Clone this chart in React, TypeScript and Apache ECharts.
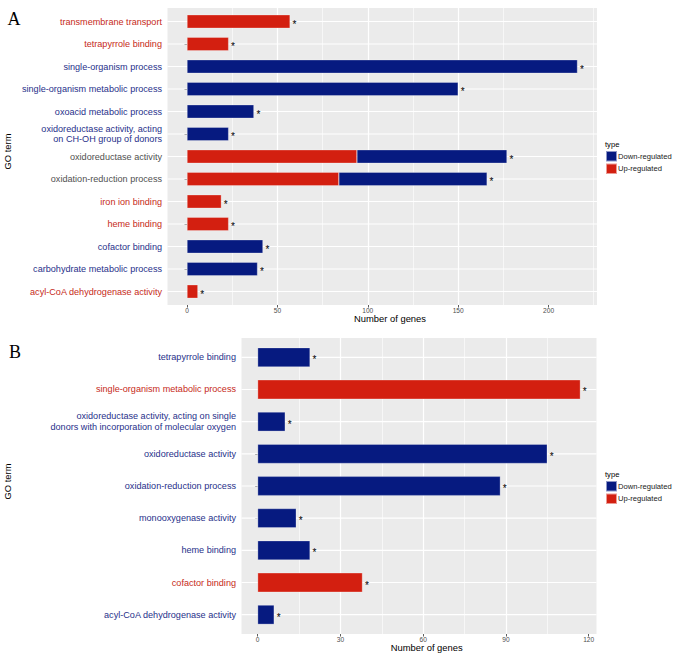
import React, { useEffect, useRef } from "react";
import * as echarts from "echarts";

const TYPE_DOWN = "Down-regulated";
const TYPE_UP = "Up-regulated";
const legendTitle = "type";
const yTitle = "GO term";
const xTitle = "Number of genes";
const panelLetters = ["A", "B"];

// Panel A
const categoriesA = [
  "transmembrane transport",
  "tetrapyrrole binding",
  "single-organism process",
  "single-organism metabolic process",
  "oxoacid metabolic process",
  "oxidoreductase activity, acting\non CH-OH group of donors",
  "oxidoreductase activity",
  "oxidation-reduction process",
  "iron ion binding",
  "heme binding",
  "cofactor binding",
  "carbohydrate metabolic process",
  "acyl-CoA dehydrogenase activity",
];
const upA = [57, 23, null, null, null, null, 94, 84, 19, 23, null, null, 6];
const downA = [null, null, 216, 150, 37, 23, 83, 82, null, null, 42, 39, null];
const xTicksA = [0, 50, 100, 150, 200];
const xRangeA = [-10.8, 226.8];

// Panel B
const categoriesB = [
  "tetrapyrrole binding",
  "single-organism metabolic process",
  "oxidoreductase activity, acting on single\ndonors with incorporation of molecular oxygen",
  "oxidoreductase activity",
  "oxidation-reduction process",
  "monooxygenase activity",
  "heme binding",
  "cofactor binding",
  "acyl-CoA dehydrogenase activity",
];
const upB = [null, 117, null, null, null, null, null, 38, null];
const downB = [19, null, 10, 105, 88, 14, 19, null, 6];
const xTicksB = [0, 30, 60, 90, 120];
const xRangeB = [-5.85, 122.85];

const BLUE = "#061a80";
const RED = "#d31f10";
const TXT_BLUE = "#27308a";
const TXT_RED = "#c62a20";
const TXT_GREY = "#505050";
const PANEL_BG = "#ebebeb";
const FONT = "Liberation Sans";

type Layout = { left: number; top: number; width: number; height: number };

function buildPanel(
  p: number,
  cats: string[],
  up: (number | null)[],
  down: (number | null)[],
  ticks: number[],
  range: number[],
  L: Layout
) {
  const n = cats.length;
  const unit = L.height / (n + 0.2);
  const inset = unit * 0.1;
  const gBg = p * 2;
  const gBar = p * 2 + 1;
  const grids = [
    { left: L.left, top: L.top, width: L.width, height: L.height, show: true, backgroundColor: PANEL_BG, borderWidth: 0, containLabel: false },
    { left: L.left, top: L.top + inset, width: L.width, height: L.height - 2 * inset, show: false, containLabel: false },
  ];
  const xAxes = [
    {
      type: "value",
      gridIndex: gBg,
      min: range[0],
      max: range[1],
      axisLine: { show: false },
      axisTick: { show: true, customValues: ticks, length: 2.5, lineStyle: { color: "#333", width: 0.8 } },
      axisLabel: { customValues: ticks, fontSize: 6.6, color: "#4d4d4d", margin: 1.8, fontFamily: FONT },
      splitLine: { show: true, showMinLine: false, showMaxLine: false, lineStyle: { color: "#ffffff", width: 1.2 } },
      minorTick: { show: false, splitNumber: 2 },
      minorSplitLine: { show: true, lineStyle: { color: "#ffffff", width: 0.6 } },
    },
    { type: "value", gridIndex: gBar, min: range[0], max: range[1], show: false },
  ];
  const colorOf = (i: number) => {
    const hasUp = up[i] != null;
    const hasDown = down[i] != null;
    if (hasUp && hasDown) return TXT_GREY;
    return hasUp ? TXT_RED : TXT_BLUE;
  };
  const yAxes = [
    { type: "value", gridIndex: gBg, min: 0, max: 1, show: false },
    {
      type: "category",
      gridIndex: gBar,
      data: cats,
      inverse: true,
      axisLine: { show: false },
      axisTick: { show: true, alignWithLabel: true, length: 2.5, lineStyle: { color: "#333", width: 0.8 } },
      axisLabel: {
        fontSize: 9.1,
        lineHeight: 10.7,
        margin: 5.5,
        fontFamily: FONT,
        align: "right",
        color: (_v: any, i: number) => colorOf(i),
      },
      splitLine: { show: false },
    },
  ];
  const labelBase = {
    show: true,
    position: "right",
    distance: 2.5,
    fontSize: 10,
    color: "#000",
    fontFamily: FONT,
    offset: [0, 2.5],
  };
  const series = [
    {
      type: "custom",
      xAxisIndex: gBar,
      yAxisIndex: gBar,
      silent: true,
      z: 1,
      encode: { x: 0, y: 1 },
      data: cats.map((c) => [0, c]),
      renderItem: (params: any, api: any) => {
        const y = api.coord([0, api.value(1)])[1];
        const cs = params.coordSys;
        return {
          type: "line",
          shape: { x1: cs.x, y1: y, x2: cs.x + cs.width, y2: y },
          style: { stroke: "#ffffff", lineWidth: 1.2 },
        };
      },
    },
    {
      name: TYPE_UP,
      type: "bar",
      stack: "s" + p,
      xAxisIndex: gBar,
      yAxisIndex: gBar,
      barWidth: "60%",
      z: 3,
      data: up.map((v) => (v == null ? "-" : v)),
      itemStyle: { color: RED, borderColor: "rgba(255,255,255,0.55)", borderWidth: 0.5 },
      label: { ...labelBase, formatter: (pp: any) => (down[pp.dataIndex] == null ? "*" : "") },
    },
    {
      name: TYPE_DOWN,
      type: "bar",
      stack: "s" + p,
      xAxisIndex: gBar,
      yAxisIndex: gBar,
      barWidth: "60%",
      z: 3,
      data: down.map((v) => (v == null ? "-" : v)),
      itemStyle: { color: BLUE, borderColor: "rgba(255,255,255,0.55)", borderWidth: 0.5 },
      label: { ...labelBase, formatter: () => "*" },
    },
  ];
  return { grids, xAxes, yAxes, series };
}

const layoutA: Layout = { left: 167.5, top: 8, width: 429.5, height: 297 };
const layoutB: Layout = { left: 241.5, top: 338, width: 355, height: 296 };

export default function App() {
  const ref = useRef<HTMLDivElement>(null);
  useEffect(() => {
    if (!ref.current) return;
    const chart = echarts.init(ref.current, undefined, { renderer: "svg" });
    const a = buildPanel(0, categoriesA, upA, downA, xTicksA, xRangeA, layoutA);
    const b = buildPanel(1, categoriesB, upB, downB, xTicksB, xRangeB, layoutB);
    const legendBase = {
      data: [TYPE_DOWN, TYPE_UP],
      orient: "vertical",
      left: 605,
      itemWidth: 11,
      itemHeight: 10.5,
      itemGap: 0,
      padding: 0,
      icon: "rect",
      selectedMode: false,
      textStyle: { fontSize: 7.6, color: "#1a1a1a", fontFamily: FONT, padding: [0, 0, 0, -4] },
    };
    const txt = (text: string, x: number, y: number, size: number, extra: any = {}) => ({
      type: "text",
      x,
      y,
      silent: true,
      ...extra,
      style: {
        text,
        fontSize: size,
        fill: "#000",
        fontFamily: FONT,
        align: "center",
        verticalAlign: "middle",
        ...(extra.style || {}),
      },
    });
    chart.setOption({
      animation: false,
      textStyle: { fontFamily: FONT },
      grid: [...a.grids, ...b.grids],
      xAxis: [...a.xAxes, ...b.xAxes],
      yAxis: [...a.yAxes, ...b.yAxes],
      series: [...a.series, ...b.series],
      legend: [
        { ...legendBase, top: 150 },
        { ...legendBase, top: 480 },
      ],
      graphic: [
        txt(panelLetters[0], 14, 19, 18, { style: { fontFamily: "Liberation Serif" } }),
        txt(panelLetters[1], 15, 351.5, 18, { style: { fontFamily: "Liberation Serif" } }),
        txt(yTitle, 7.5, 151.5, 9.4, { rotation: Math.PI / 2 }),
        txt(yTitle, 7.5, 481.5, 9.4, { rotation: Math.PI / 2 }),
        txt(xTitle, 390, 318.5, 9.4),
        txt(xTitle, 426.7, 647, 9.4),
        txt(legendTitle, 605, 144, 7.6, { style: { align: "left" } }),
        txt(legendTitle, 605, 474, 7.6, { style: { align: "left" } }),
      ],
    });
    return () => chart.dispose();
  }, []);
  return (
    <div
      ref={ref}
      style={{ position: "absolute", left: 0, top: 0, width: 675, height: 654, background: "#fff" }}
    />
  );
}
